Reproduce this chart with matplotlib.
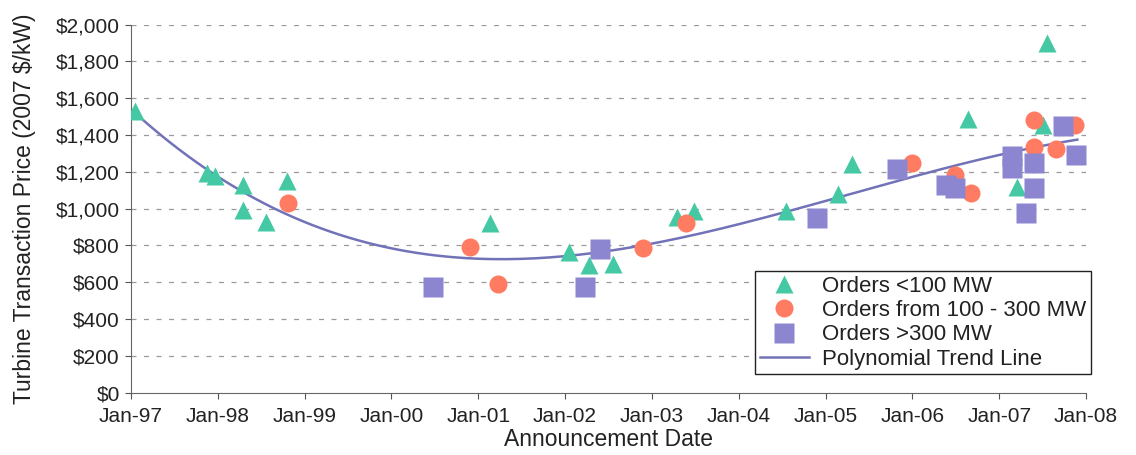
import matplotlib
matplotlib.use("Agg")
import matplotlib.pyplot as plt
import numpy as np

plt.rcParams['font.family'] = ['Liberation Sans', 'DejaVu Sans']

# decimal years, prices in 2007 $/kW
small_x = [1997.05, 1997.88, 1997.97, 1998.29, 1998.29, 1998.55, 1998.80, 2001.13,
           2002.05, 2002.28, 2002.55, 2003.29, 2003.48, 2004.55, 2005.14, 2005.31,
           2006.64, 2007.21, 2007.50, 2007.55]
small_y = [1530, 1196, 1178, 1129, 994, 930, 1151, 924,
           764, 693, 697, 952, 985, 985, 1078, 1245,
           1486, 1119, 1452, 1898]

mid_x = [1998.81, 2000.90, 2001.23, 2002.90, 2003.39, 2006.00, 2006.49, 2006.67,
         2007.40, 2007.40, 2007.65, 2007.87]
mid_y = [1028, 792, 590, 787, 920, 1250, 1182, 1083,
         1480, 1335, 1322, 1455]

big_x = [2000.48, 2002.23, 2002.40, 2004.90, 2005.82, 2006.39, 2006.49, 2007.15,
         2007.15, 2007.31, 2007.40, 2007.40, 2007.73, 2007.89]
big_y = [572, 572, 778, 947, 1214, 1128, 1110, 1285,
         1222, 978, 1250, 1110, 1447, 1290]

year_ticks = list(range(1997, 2009))
year_labels = ["Jan-%02d" % (y % 100) for y in year_ticks]
price_ticks = list(range(0, 2001, 200))

# polynomial trend line (3rd order) through all the orders
all_x = np.array(small_x + mid_x + big_x)
all_y = np.array(small_y + mid_y + big_y)
coef = np.polyfit(all_x - 2002, all_y, 3)
trend_x = np.linspace(1997.0, 2007.9, 200)
trend_y = np.polyval(coef, trend_x - 2002)

fig = plt.figure(figsize=(11.36, 4.55), dpi=100)
ax = fig.add_axes([0.1153, 0.137, 0.8407, 0.809])

txt = '#222222'
ax.plot(trend_x, trend_y, color='#7272b8', lw=1.8, label='Polynomial Trend Line', zorder=2)
ax.plot(small_x, small_y, '^', color='#45c9a4', ms=12.5, mec='none',
        label='Orders <100 MW', zorder=3)
ax.plot(mid_x, mid_y, 'o', color='#ff7c62', ms=13, mec='none',
        label='Orders from 100 - 300 MW', zorder=3)
ax.plot(big_x, big_y, 's', color='#8b86cf', ms=15, mec='none',
        label='Orders >300 MW', zorder=3)

ax.set_xlim(1997, 2008)
ax.set_ylim(0, 2000)
ax.set_xticks(year_ticks)
ax.set_xticklabels(year_labels)
ax.set_yticks(price_ticks)
ax.set_yticklabels(["${:,}".format(p) for p in price_ticks])
ax.tick_params(axis='both', labelsize=15, colors='#555555', labelcolor=txt, length=4)
ax.tick_params(axis='y', pad=4)
ax.tick_params(axis='x', pad=6)

for p in price_ticks[1:]:
    ax.axhline(p, color='#9a9a9a', lw=0.9, ls=(0, (4, 6)), zorder=1)

ax.spines['top'].set_visible(False)
ax.spines['right'].set_visible(False)
ax.spines['left'].set_color('#666666')
ax.spines['bottom'].set_color('#666666')

ax.set_xlabel('Announcement Date', fontsize=16.5, color=txt, labelpad=2)
ax.set_ylabel('Turbine Transaction Price (2007 $/kW)', fontsize=16.5, color=txt, labelpad=14)

h, l = ax.get_legend_handles_labels()
order = [1, 2, 3, 0]
leg = ax.legend([h[i] for i in order], [l[i] for i in order], loc='lower right',
                bbox_to_anchor=(1.005, 0.05), fontsize=16, frameon=True, fancybox=False,
                edgecolor='#222222', framealpha=1, handlelength=2.2, handletextpad=0.6,
                borderpad=0.2, labelspacing=0.15, borderaxespad=0)
leg.get_frame().set_linewidth(1.0)
for t in leg.get_texts():
    t.set_color(txt)

fig.savefig('out.png', dpi=100)
